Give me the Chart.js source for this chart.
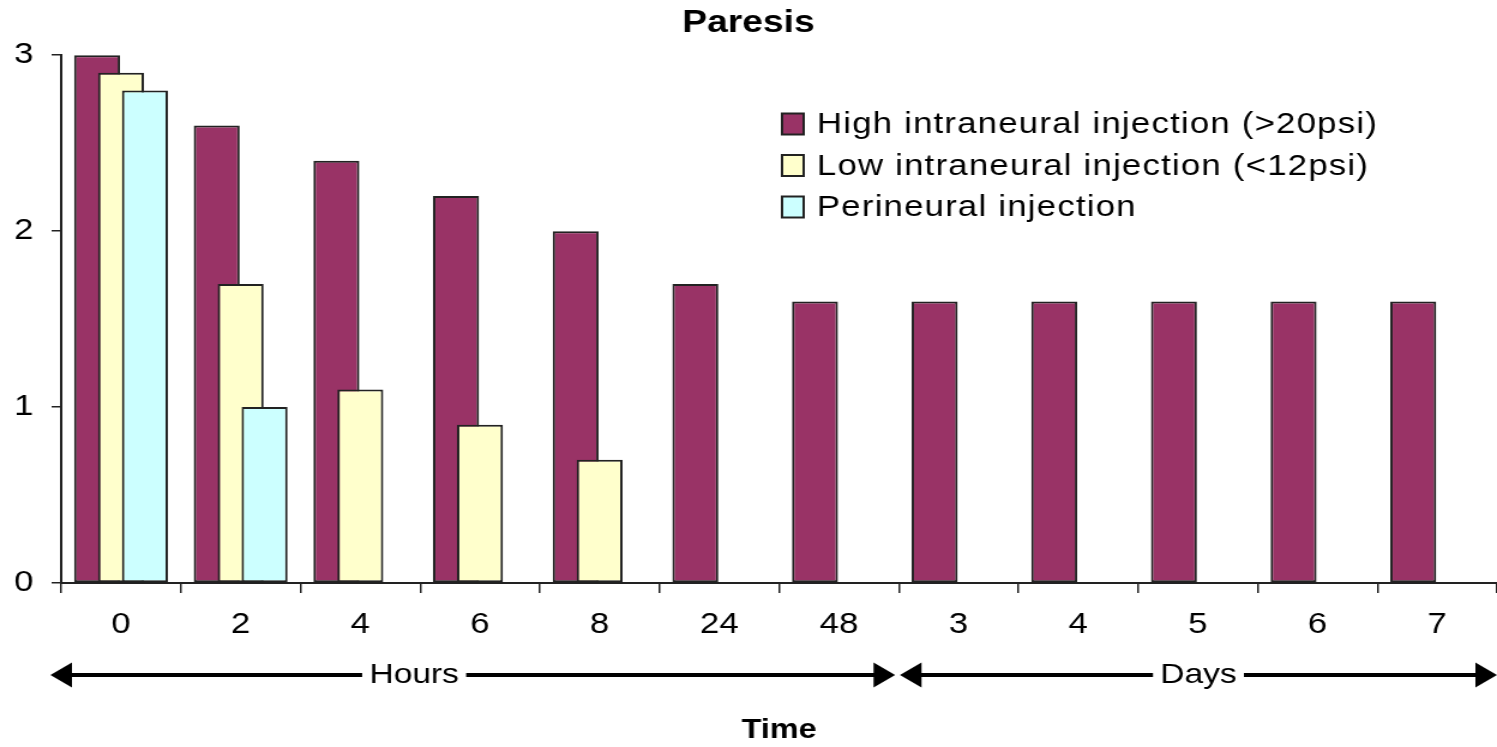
<!DOCTYPE html>
<html><head><meta charset="utf-8">
<script src="https://cdn.jsdelivr.net/npm/chart.js@4.4.1/dist/chart.umd.min.js"></script>
<style>
html,body{margin:0;padding:0;background:#fff;overflow:hidden;}
#wrap{width:1248px;height:747px;transform:scaleX(1.1995);transform-origin:0 0;}
</style></head><body>
<div id="wrap"><canvas id="c" width="1248" height="747"></canvas></div>
<script>
const categories = ['0','2','4','6','8','24','48','3','4','5','6','7'];
const highIntraneural = [3.0, 2.6, 2.4, 2.2, 2.0, 1.7, 1.6, 1.6, 1.6, 1.6, 1.6, 1.6];
const lowIntraneural = [2.9, 1.7, 1.1, 0.9, 0.7, null, null, null, null, null, null, null];
const perineural = [2.8, 1.0, null, null, null, null, null, null, null, null, null, null];
const seriesNames = ['High intraneural injection (>20psi)', 'Low intraneural injection (<12psi)', 'Perineural injection'];
const seriesColors = ['#993366', '#FFFFCC', '#CCFFFF'];
const yTicks = [0, 1, 2, 3];
const chartTitle = 'Paresis';
const xTitle = 'Time';
const timeGroups = [{label: 'Hours', first: 0, last: 6}, {label: 'Days', first: 7, last: 11}];

const FONT = '"Liberation Sans", Arial, Helvetica, sans-serif';
const INK = '#222';

// draw datasets in forward order so later series sit on top of earlier ones
const orderPlugin = {
  id: 'drawOrder',
  beforeDatasetsDraw(chart) {
    const metas = chart.getSortedVisibleDatasetMetas();
    for (const meta of metas) meta.controller.draw();
    return false;
  }
};

const legendPlugin = {
  id: 'insideLegend',
  afterDraw(chart) {
    const ctx = chart.ctx;
    ctx.save();
    ctx.font = '29px ' + FONT;
    try { ctx.letterSpacing = '1px'; } catch (e) {}
    ctx.textBaseline = 'middle';
    ctx.textAlign = 'left';
    const x0 = 652, y0 = 124, dy = 41.5;
    chart.data.datasets.forEach((ds, i) => {
      const y = y0 + i * dy;
      ctx.fillStyle = ds.backgroundColor;
      ctx.fillRect(x0, y - 10.5, 18, 21);
      ctx.strokeStyle = INK; ctx.lineWidth = 2;
      ctx.strokeRect(x0, y - 10.5, 18, 21);
      ctx.fillStyle = '#000';
      ctx.fillText(ds.label, 681, y + 1);
    });
    ctx.restore();
  }
};

function arrow(ctx, x1, x2, y) {
  const hl = 18, hh = 12.5;
  ctx.beginPath();
  ctx.moveTo(x1 + hl - 2, y); ctx.lineTo(x2 - hl + 2, y);
  ctx.lineWidth = 4; ctx.strokeStyle = '#000'; ctx.stroke();
  ctx.beginPath();
  ctx.moveTo(x1, y); ctx.lineTo(x1 + hl, y - hh); ctx.lineTo(x1 + hl, y + hh); ctx.closePath();
  ctx.moveTo(x2, y); ctx.lineTo(x2 - hl, y - hh); ctx.lineTo(x2 - hl, y + hh); ctx.closePath();
  ctx.fillStyle = '#000'; ctx.fill();
}

const groupPlugin = {
  id: 'timeGroups',
  afterDraw(chart) {
    const ctx = chart.ctx, xs = chart.scales.x;
    const yA = 675;
    ctx.save();
    ctx.font = '28px ' + FONT;
    ctx.textBaseline = 'middle';
    ctx.textAlign = 'center';
    timeGroups.forEach((g, i) => {
      const left = i === 0 ? xs.left - 9 : xs.getPixelForValue(g.first - 0.5) + 1;
      const right = i === timeGroups.length - 1 ? xs.right : xs.getPixelForValue(g.last + 0.5) - 3;
      arrow(ctx, left, right, yA);
      const cx = i === 0 ? xs.getPixelForValue(g.first + 2.45) : (left + right) / 2;
      const w = ctx.measureText(g.label).width;
      ctx.fillStyle = '#fff';
      ctx.fillRect(cx - w / 2 - 6, yA - 16, w + 12, 32);
      ctx.fillStyle = '#000';
      ctx.fillText(g.label, cx, yA);
    });
    ctx.restore();
  }
};

const common = {borderColor: INK, borderWidth: 2, borderSkipped: false,
  categoryPercentage: 0.6, barPercentage: 1.92};

new Chart(document.getElementById('c'), {
  type: 'bar',
  data: {
    labels: categories,
    datasets: [
      Object.assign({label: seriesNames[0], data: highIntraneural, backgroundColor: seriesColors[0]}, common),
      Object.assign({label: seriesNames[1], data: lowIntraneural, backgroundColor: seriesColors[1]}, common),
      Object.assign({label: seriesNames[2], data: perineural, backgroundColor: seriesColors[2]}, common)
    ]
  },
  options: {
    responsive: false,
    animation: false,
    devicePixelRatio: 1,
    layout: {padding: {left: 0, right: 0, top: 0, bottom: 0}},
    plugins: {
      legend: {display: false},
      tooltip: {enabled: false},
      title: {display: true, text: chartTitle, color: '#000',
        font: {family: FONT, size: 31, weight: 'bold'}, padding: {top: 5, bottom: 13}}
    },
    scales: {
      x: {
        grid: {display: true, drawOnChartArea: false, drawTicks: true, tickLength: 10, color: INK, lineWidth: 1.5, offset: true},
        border: {display: true, color: INK, width: 2},
        ticks: {color: '#000', font: {family: FONT, size: 29}, padding: 15, maxRotation: 0, autoSkip: false},
        title: {display: true, text: xTitle, color: '#000', font: {family: FONT, size: 27, weight: 'bold'}, padding: {top: 0, bottom: 0}},
        afterFit(scale) { scale.height = 164; }
      },
      y: {
        min: 0, max: 3,
        afterBuildTicks(scale) { scale.ticks = yTicks.map(v => ({value: v})); },
        grid: {display: true, drawOnChartArea: false, drawTicks: true, tickLength: 8, color: INK, lineWidth: 1.5},
        border: {display: true, color: INK, width: 2},
        ticks: {color: '#000', font: {family: FONT, size: 29}, padding: 15},
        afterFit(scale) { scale.width = 51; }
      }
    }
  },
  plugins: [orderPlugin, legendPlugin, groupPlugin]
});
</script>
</body></html>
